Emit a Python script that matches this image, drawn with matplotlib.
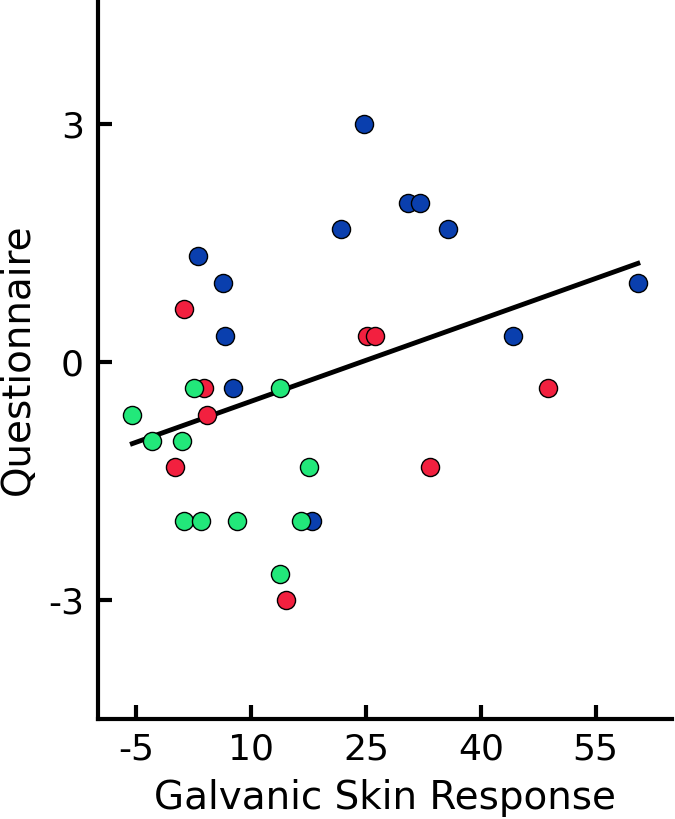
import numpy as np
from matplotlib import pyplot as plt

plt.rcParams['axes.unicode_minus'] = False

# galvanic skin response vs questionnaire score, three groups
blue_x = [24.7, 21.8, 30.5, 32.0, 35.7, 3.1, 6.3, 6.6, 7.7, 44.2, 60.5, 18.0]
blue_y = [3.0, 1.67, 2.0, 2.0, 1.67, 1.33, 1.0, 0.33, -0.33, 0.33, 1.0, -2.0]

red_x = [1.3, 3.8, 4.2, 0.1, 14.6, 25.1, 26.2, 48.8, 33.4]
red_y = [0.67, -0.33, -0.67, -1.33, -3.0, 0.33, 0.33, -0.33, -1.33]

green_x = [-5.5, 2.6, 13.8, -2.9, 1.0, 17.6, 1.3, 3.4, 8.1, 16.5, 13.8]
green_y = [-0.67, -0.33, -0.33, -1.0, -1.0, -1.33, -2.0, -2.0, -2.0, -2.0, -2.67]

# fitted line
slope = 0.0344
intercept = -0.84

xticks = [-5, 10, 25, 40, 55]
yticks = [-3, 0, 3]

fig = plt.figure(figsize=(6.75, 8.19), dpi=100)
ax = fig.add_axes([0.145, 0.122, 0.851, 0.878])

all_x = blue_x + red_x + green_x
lx = np.array([min(all_x), max(all_x)])
ax.plot(lx, intercept + slope * lx, color='black', lw=3.5, zorder=2)

ax.scatter(blue_x, blue_y, s=170, color='#0a3fae', edgecolor='black', linewidth=1, zorder=3)
ax.scatter(red_x, red_y, s=170, color='#f2203f', edgecolor='black', linewidth=1, zorder=3)
ax.scatter(green_x, green_y, s=170, color='#22e87a', edgecolor='black', linewidth=1, zorder=3)

ax.set_xlim(-10, 65)
ax.set_ylim(-4.5, 4.56)
ax.set_xticks(xticks)
ax.set_yticks(yticks)
ax.tick_params(direction='in', length=10, width=3, labelsize=26, pad=10)

for side in ['top', 'right']:
    ax.spines[side].set_visible(False)
for side in ['left', 'bottom']:
    ax.spines[side].set_linewidth(3)

ax.set_xlabel('Galvanic Skin Response', fontsize=28, labelpad=9)
ax.set_ylabel('Questionnaire', fontsize=28)
ax.yaxis.set_label_coords(-0.106, 0.5)

plt.savefig('out.png', dpi=100)
